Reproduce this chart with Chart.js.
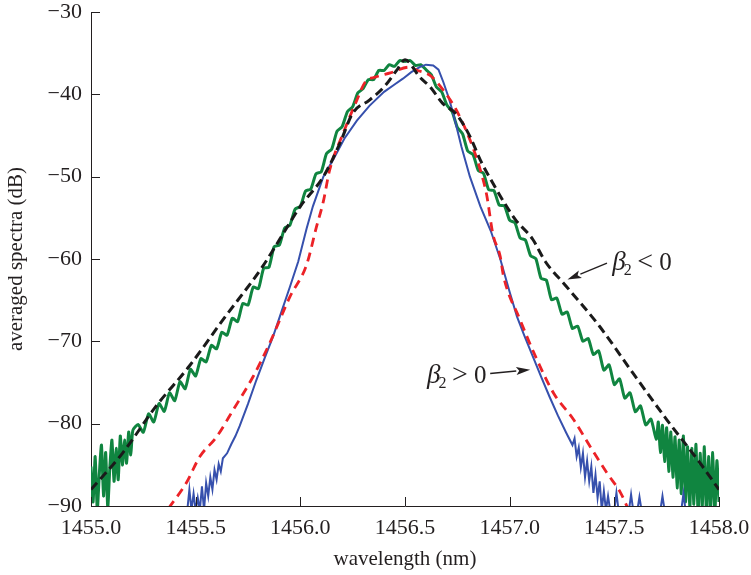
<!DOCTYPE html>
<html>
<head>
<meta charset="utf-8">
<script src="https://cdn.jsdelivr.net/npm/chart.js@4"></script>
<style>
  html, body { margin: 0; padding: 0; background: #fff; }
  canvas { display: block; }
</style>
</head>
<body>
<canvas id="chart-spectra" width="751" height="575"></canvas>
<script>
// averaged spectra — measured (solid) vs simulated (dashed), both dispersion signs
const xTicks = [1455.0, 1455.5, 1456.0, 1456.5, 1457.0, 1457.5, 1458.0];
const yTicks = [-90, -80, -70, -60, -50, -40, -30];

// [wavelength nm, dB]
// black dashed: simulation, beta2 < 0
const anomalousSim = [
  [1455.00, -88.0], [1455.15, -83.6], [1455.31, -77.9], [1455.47, -73.0], [1455.63, -67.4],
  [1455.82, -60.9], [1455.95, -55.6], [1456.00, -53.6], [1456.11, -50.0], [1456.19, -45.9],
  [1456.25, -42.3], [1456.33, -40.7], [1456.40, -39.1], [1456.46, -37.1], [1456.50, -35.8],
  [1456.57, -37.9], [1456.62, -39.1], [1456.68, -41.1], [1456.745, -42.4], [1456.81, -45.1],
  [1456.86, -48.0], [1456.92, -50.8], [1456.985, -53.6], [1457.03, -55.3], [1457.11, -57.6],
  [1457.17, -60.3], [1457.27, -63.3], [1457.43, -68.2], [1457.59, -73.9], [1457.75, -79.5],
  [1457.91, -84.8], [1458.00, -88.0]
];

// green solid: measured, beta2 < 0
const anomalousMeas = [
  [1455.00, -85.2], [1455.01, -89.5], [1455.02, -84.0], [1455.03, -90.5], [1455.04, -86.0],
  [1455.05, -82.6], [1455.06, -88.8], [1455.07, -83.5], [1455.08, -90.2], [1455.09, -85.3],
  [1455.10, -82.0], [1455.11, -87.0], [1455.12, -83.0], [1455.13, -86.8], [1455.14, -81.5],
  [1455.15, -85.0], [1455.16, -82.0], [1455.17, -84.8], [1455.18, -81.0], [1455.19, -83.8],
  [1455.20, -80.8], [1455.225, -80.1], [1455.25, -81.05], [1455.275, -78.8], [1455.30, -79.8],
  [1455.325, -77.55], [1455.35, -78.5], [1455.375, -76.25], [1455.40, -77.2], [1455.425, -74.9],
  [1455.45, -75.75], [1455.475, -73.4], [1455.50, -74.2], [1455.525, -72.1], [1455.55, -72.5],
  [1455.575, -70.5], [1455.60, -70.9], [1455.625, -68.9], [1455.65, -69.25], [1455.675, -67.2],
  [1455.70, -67.6], [1455.725, -65.4], [1455.75, -65.6], [1455.775, -63.4], [1455.80, -63.6],
  [1455.825, -61.1], [1455.85, -61.0], [1455.875, -58.5], [1455.90, -58.3], [1455.925, -56.25],
  [1455.95, -55.9], [1455.975, -53.95], [1456.00, -53.6], [1456.025, -51.75], [1456.05, -51.5],
  [1456.075, -49.65], [1456.10, -49.4], [1456.125, -47.2], [1456.15, -46.65], [1456.175, -44.5],
  [1456.20, -43.9], [1456.225, -42.1], [1456.25, -41.5], [1456.275, -39.8], [1456.30, -39.3],
  [1456.325, -38.2], [1456.35, -38.2], [1456.375, -37.1], [1456.40, -37.1], [1456.425, -36.4],
  [1456.45, -36.6], [1456.475, -35.9], [1456.50, -36.0], [1456.525, -35.9], [1456.55, -36.5],
  [1456.575, -36.4], [1456.60, -37.0], [1456.625, -37.6], [1456.65, -39.1], [1456.675, -39.7],
  [1456.70, -41.3], [1456.725, -42.1], [1456.75, -44.0], [1456.775, -44.8], [1456.80, -46.9],
  [1456.825, -47.3], [1456.85, -49.25], [1456.875, -49.6], [1456.90, -51.6], [1456.925, -51.7],
  [1456.95, -53.45], [1456.975, -53.55], [1457.00, -55.3], [1457.025, -55.6], [1457.05, -57.45],
  [1457.075, -57.7], [1457.10, -59.6], [1457.125, -59.95], [1457.15, -62.35], [1457.175, -62.55],
  [1457.20, -64.95], [1457.225, -64.75], [1457.25, -66.7], [1457.275, -66.45], [1457.30, -68.45],
  [1457.325, -68.15], [1457.35, -70.0], [1457.375, -69.65], [1457.40, -71.6], [1457.425, -71.15],
  [1457.45, -73.5], [1457.475, -72.85], [1457.50, -75.25], [1457.525, -74.55], [1457.55, -76.9],
  [1457.575, -76.25], [1457.60, -78.55], [1457.625, -77.85], [1457.65, -80.15], [1457.675, -79.45],
  [1457.70, -81.9], [1457.71, -79.8], [1457.72, -83.5], [1457.73, -80.2], [1457.74, -84.6],
  [1457.75, -80.5], [1457.76, -85.8], [1457.77, -81.0], [1457.78, -86.5], [1457.79, -81.6],
  [1457.80, -87.8], [1457.81, -82.0], [1457.82, -88.5], [1457.83, -81.5], [1457.84, -89.5],
  [1457.85, -82.8], [1457.86, -90.5], [1457.87, -83.0], [1457.88, -89.8], [1457.89, -82.5],
  [1457.90, -91.0], [1457.91, -83.6], [1457.92, -90.2], [1457.93, -82.8], [1457.94, -91.0],
  [1457.95, -84.0], [1457.96, -90.5], [1457.97, -83.5], [1457.98, -91.0], [1457.99, -84.5],
  [1458.00, -89.5]
];

// red dashed: simulation, beta2 > 0
const normalSim = [
  [1455.37, -90.3], [1455.455, -87.2], [1455.52, -84.0], [1455.60, -81.6], [1455.68, -78.3],
  [1455.774, -74.3], [1455.854, -70.2], [1455.95, -64.6], [1456.03, -60.7], [1456.077, -56.1],
  [1456.11, -53.0], [1456.14, -49.2], [1456.205, -44.7], [1456.27, -40.7], [1456.31, -38.5],
  [1456.36, -37.9], [1456.43, -37.4], [1456.52, -36.7], [1456.56, -37.1], [1456.62, -37.7],
  [1456.683, -39.5], [1456.745, -41.9], [1456.81, -45.5], [1456.86, -49.2], [1456.89, -52.2],
  [1456.92, -57.0], [1456.955, -59.7], [1456.97, -62.0], [1457.05, -67.4], [1457.13, -72.2],
  [1457.21, -76.3], [1457.305, -79.5], [1457.385, -82.8], [1457.465, -86.0], [1457.53, -88.4],
  [1457.565, -90.3]
];

// blue solid: measured, beta2 > 0
const normalMeas = [
  [1455.46, -90.5], [1455.47, -88.0], [1455.48, -90.5], [1455.49, -88.5], [1455.50, -90.5],
  [1455.51, -89.0], [1455.52, -90.5], [1455.53, -87.6], [1455.54, -90.5], [1455.55, -87.2],
  [1455.56, -88.8], [1455.57, -86.5], [1455.58, -88.0], [1455.59, -85.6], [1455.60, -86.8],
  [1455.61, -84.9], [1455.62, -85.8], [1455.63, -84.2], [1455.65, -83.6], [1455.67, -82.5],
  [1455.69, -81.5], [1455.71, -80.3], [1455.75, -77.6], [1455.79, -74.7], [1455.83, -72.0],
  [1455.87, -69.4], [1455.91, -66.4], [1455.95, -63.4], [1455.99, -60.3], [1456.03, -56.3],
  [1456.06, -53.6], [1456.11, -50.0], [1456.16, -47.8], [1456.21, -45.4], [1456.27, -43.2],
  [1456.33, -41.4], [1456.40, -39.7], [1456.45, -38.8], [1456.49, -38.1], [1456.53, -37.3],
  [1456.57, -36.7], [1456.60, -36.4], [1456.635, -36.5], [1456.66, -37.0], [1456.683, -38.5],
  [1456.71, -40.5], [1456.73, -42.3], [1456.77, -46.4], [1456.81, -50.0], [1456.86, -53.6],
  [1456.91, -56.6], [1456.955, -60.0], [1457.00, -64.0], [1457.035, -67.0], [1457.07, -69.3],
  [1457.11, -71.8], [1457.15, -74.3], [1457.19, -76.7], [1457.23, -79.0], [1457.27, -81.1],
  [1457.30, -82.6], [1457.31, -81.8], [1457.32, -84.0], [1457.33, -82.9], [1457.34, -85.3],
  [1457.35, -83.6], [1457.36, -86.5], [1457.37, -84.5], [1457.38, -87.0], [1457.39, -85.2],
  [1457.40, -88.4], [1457.41, -86.2], [1457.42, -89.0], [1457.43, -87.0], [1457.44, -90.5],
  [1457.45, -88.2], [1457.46, -90.5], [1457.47, -88.8], [1457.48, -90.5], [1457.50, -90.5],
  [1457.51, -88.4], [1457.52, -90.5], [1457.57, -90.5], [1457.58, -88.6], [1457.59, -90.5],
  [1457.61, -90.5], [1457.62, -88.9], [1457.63, -90.5], [1457.72, -90.5], [1457.73, -88.8],
  [1457.74, -90.5], [1457.82, -90.5], [1457.83, -88.5], [1457.84, -90.5]
];

// annotation anchors in data units: text start (baseline), arrow tail, arrow tip
const labels = [
  { op: "<", textNm: 1457.49, textDb: -61.3, tailNm: 1457.465, tailDb: -60.5, tipNm: 1457.276, tipDb: -62.5 },
  { op: ">", textNm: 1456.605, textDb: -75.0, tailNm: 1456.907, tailDb: -73.9, tipNm: 1457.098, tipDb: -73.45 }
];

const INK = "#231f20";
const SERIF = "'Liberation Serif', 'Times New Roman', serif";

const toXY = (pts) => pts.map(([x, y]) => ({ x, y }));

// ticks point inward, MATLAB style
const inwardTicks = {
  id: "inwardTicks",
  afterDatasetsDraw(chart) {
    const { ctx, chartArea, scales } = chart;
    const len = 9;
    ctx.save();
    ctx.strokeStyle = INK;
    ctx.lineWidth = 1;
    ctx.beginPath();
    xTicks.forEach((v) => {
      const px = Math.round(scales.x.getPixelForValue(v)) + 0.5;
      ctx.moveTo(px, chartArea.bottom);
      ctx.lineTo(px, chartArea.bottom - len);
    });
    yTicks.forEach((v) => {
      const py = Math.round(scales.y.getPixelForValue(v)) + 0.5;
      ctx.moveTo(chartArea.left, py);
      ctx.lineTo(chartArea.left + len, py);
    });
    ctx.stroke();
    ctx.restore();
  },
};

// beta_2 labels with arrows
const betaLabels = {
  id: "betaLabels",
  afterDraw(chart) {
    const { ctx, scales } = chart;
    ctx.save();
    ctx.fillStyle = INK;
    ctx.strokeStyle = INK;
    labels.forEach((l) => {
      const tx = scales.x.getPixelForValue(l.textNm);
      const ty = scales.y.getPixelForValue(l.textDb);
      ctx.textAlign = "left";
      ctx.textBaseline = "alphabetic";
      ctx.font = "italic 27px " + SERIF;
      ctx.fillText("\u03b2", tx, ty);
      const bw = ctx.measureText("\u03b2").width;
      ctx.font = "16px " + SERIF;
      ctx.fillText("2", tx + bw - 2, ty + 5);
      ctx.font = "28px " + SERIF;
      ctx.fillText(l.op, tx + 25, ty);
      ctx.font = "25px " + SERIF;
      ctx.fillText("0", tx + 47, ty);

      const x0 = scales.x.getPixelForValue(l.tailNm);
      const y0 = scales.y.getPixelForValue(l.tailDb);
      const x1 = scales.x.getPixelForValue(l.tipNm);
      const y1 = scales.y.getPixelForValue(l.tipDb);
      const ang = Math.atan2(y1 - y0, x1 - x0);
      const head = 14, half = 4;
      const bx = x1 - head * Math.cos(ang), by = y1 - head * Math.sin(ang);
      ctx.lineWidth = 1.4;
      ctx.beginPath();
      ctx.moveTo(x0, y0);
      ctx.lineTo(bx, by);
      ctx.stroke();
      ctx.beginPath();
      ctx.moveTo(x1, y1);
      ctx.lineTo(bx + half * Math.sin(ang), by - half * Math.cos(ang));
      ctx.lineTo(bx + 3 * Math.cos(ang), by + 3 * Math.sin(ang));
      ctx.lineTo(bx - half * Math.sin(ang), by + half * Math.cos(ang));
      ctx.closePath();
      ctx.fill();
    });
    ctx.restore();
  },
};

Chart.defaults.font.family = SERIF;
Chart.defaults.color = INK;

const datasets = [
  {
    label: "simulation, beta2 < 0",
    data: toXY(anomalousSim),
    borderColor: "#1a1a1a",
    borderWidth: 3,
    borderDash: [9, 5],
    cubicInterpolationMode: "monotone",
  },
  {
    label: "simulation, beta2 > 0",
    data: toXY(normalSim),
    borderColor: "#ec2227",
    borderWidth: 2.8,
    borderDash: [9, 6],
    cubicInterpolationMode: "monotone",
  },
  {
    label: "measured, beta2 > 0",
    data: toXY(normalMeas),
    borderColor: "#3650ad",
    borderWidth: 2,
    tension: 0,
  },
  {
    label: "measured, beta2 < 0",
    data: toXY(anomalousMeas),
    borderColor: "#108540",
    borderWidth: 3,
    tension: 0.2,
  },
].map((d) => ({ ...d, pointRadius: 0, fill: false, clip: 0 }));

new Chart(document.getElementById("chart-spectra"), {
  type: "line",
  data: { datasets },
  plugins: [inwardTicks, betaLabels],
  options: {
    responsive: false,
    animation: false,
    devicePixelRatio: 1,
    layout: { padding: { left: 0, top: 12, right: 32, bottom: 0 } },
    plugins: { legend: { display: false }, tooltip: { enabled: false } },
    scales: {
      x: {
        type: "linear",
        min: 1455,
        max: 1458,
        afterFit: (s) => { s.height = 69; s.paddingLeft = 0; s.paddingRight = 0; },
        afterBuildTicks: (s) => { s.ticks = xTicks.map((v) => ({ value: v })); },
        ticks: {
          autoSkip: false,
          maxRotation: 0,
          padding: 9,
          color: INK,
          font: { size: 22 },
          callback: (v) => Number(v).toFixed(1),
        },
        grid: { display: false, drawTicks: false },
        border: { display: true, color: INK, width: 1 },
        title: {
          display: true,
          text: "wavelength (nm)",
          color: INK,
          font: { size: 21 },
          padding: { top: 0, bottom: 3 },
        },
      },
      y: {
        type: "linear",
        min: -90,
        max: -30,
        afterFit: (s) => { s.width = 91; s.paddingTop = 0; s.paddingBottom = 0; },
        afterBuildTicks: (s) => { s.ticks = yTicks.map((v) => ({ value: v })); },
        ticks: {
          autoSkip: false,
          padding: 9,
          color: INK,
          font: { size: 22 },
          callback: (v) => (v < 0 ? "\u2212" + Math.abs(v) : String(v)),
        },
        grid: { display: false, drawTicks: false },
        border: { display: true, color: INK, width: 1 },
        title: {
          display: true,
          text: "averaged spectra (dB)",
          color: INK,
          font: { size: 21 },
          padding: { top: 4, bottom: 0 },
        },
      },
    },
  },
});
</script>
</body>
</html>
